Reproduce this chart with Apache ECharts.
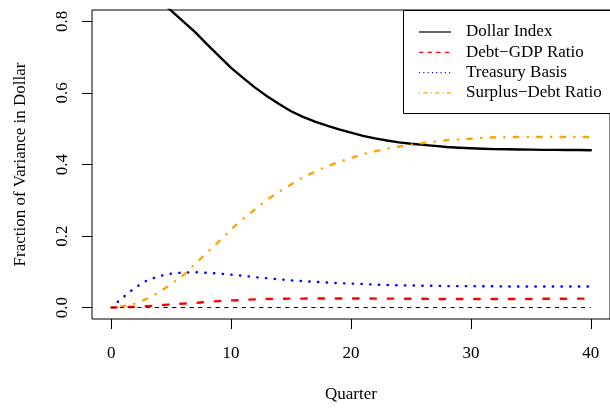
<!DOCTYPE html>
<html>
<head>
<meta charset="utf-8">
<title>Variance Decomposition of the Dollar</title>
<script src="https://cdn.jsdelivr.net/npm/echarts@6/dist/echarts.min.js"></script>
<style>
  html, body { margin: 0; padding: 0; background: #fff; }
  #chart { width: 610px; height: 408px; }
</style>
</head>
<body>
<div id="chart"></div>
<script>
// Forecast horizon in quarters
const quarters = [0,1,2,3,4,5,6,7,8,9,10,11,12,13,14,15,16,17,18,19,20,
  21,22,23,24,25,26,27,28,29,30,31,32,33,34,35,36,37,38,39,40];

// Share of dollar forecast-error variance explained by each shock
const dollarIndex = [1.000,0.962,0.931,0.896,0.863,0.830,0.800,0.770,0.736,0.703,0.670,
  0.642,0.615,0.591,0.569,0.549,0.533,0.520,0.509,0.498,0.489,
  0.480,0.473,0.467,0.462,0.458,0.455,0.452,0.449,0.447,0.4455,
  0.444,0.443,0.4425,0.442,0.4415,0.441,0.441,0.4405,0.4405,0.440];
const debtGdpRatio = [0.000,0.001,0.002,0.004,0.006,0.009,0.011,0.013,0.016,0.018,0.020,
  0.021,0.023,0.024,0.0245,0.025,0.025,0.0255,0.0255,0.0255,0.0255,
  0.0255,0.025,0.025,0.025,0.0245,0.0245,0.024,0.024,0.024,0.024,
  0.024,0.024,0.024,0.024,0.024,0.0245,0.0245,0.0245,0.025,0.025];
const treasuryBasis = [0.000,0.029,0.056,0.076,0.088,0.095,0.098,0.099,0.097,0.095,0.092,
  0.089,0.085,0.082,0.079,0.076,0.074,0.072,0.070,0.068,0.067,
  0.066,0.064,0.063,0.062,0.062,0.061,0.061,0.060,0.060,0.060,
  0.0595,0.0595,0.059,0.059,0.059,0.059,0.059,0.059,0.059,0.059];
const surplusDebtRatio = [0.000,0.004,0.011,0.025,0.043,0.066,0.090,0.122,0.154,0.185,0.218,
  0.248,0.275,0.301,0.324,0.344,0.364,0.380,0.395,0.407,0.418,
  0.429,0.437,0.444,0.450,0.455,0.460,0.464,0.468,0.470,0.472,
  0.4745,0.476,0.4765,0.477,0.477,0.477,0.477,0.477,0.477,0.477];
// Horizontal reference at zero across the horizon
const zeroLine = quarters.map(() => 0);

const xTicks = [0, 10, 20, 30, 40];
const yTicks = [0, 0.2, 0.4, 0.6, 0.8];

const seriesNames = ['Dollar Index', 'Debt\u2212GDP Ratio', 'Treasury Basis', 'Surplus\u2212Debt Ratio'];

const FONT = 'Liberation Serif';
const pairs = (ys) => quarters.map((q, i) => [q, ys[i]]);

const chart = echarts.init(document.getElementById('chart'), null, { renderer: 'canvas' });

// Legend drawn as a boxed key in the upper right
const legendRows = [
  { name: seriesNames[0], color: '#000000', dash: null },
  { name: seriesNames[1], color: '#FF0000', dash: [4.3, 4.3] },
  { name: seriesNames[2], color: '#0000FF', dash: [1.1, 3.2] },
  { name: seriesNames[3], color: '#FFA500', dash: [1.1, 3.2, 4.3, 3.2] }
];
const legendGraphics = [{
  type: 'rect',
  shape: { x: 403.5, y: 10.5, width: 230, height: 103 },
  style: { fill: '#fff', stroke: '#000', lineWidth: 1 },
  z: 100
}];
legendRows.forEach((r, i) => {
  const y = 32 + i * 20.3;
  legendGraphics.push({
    type: 'line',
    shape: { x1: 419, y1: y, x2: 451, y2: y },
    style: { stroke: r.color, lineWidth: 1.2, lineDash: r.dash },
    z: 101
  });
  legendGraphics.push({
    type: 'text',
    x: 466, y: y,
    style: { text: r.name, fill: '#000', font: '17px "' + FONT + '"', verticalAlign: 'middle', align: 'left' },
    z: 101
  });
});

chart.setOption({
  animation: false,
  backgroundColor: '#ffffff',
  textStyle: { fontFamily: FONT },
  grid: {
    left: 92, top: 10, width: 520.6, height: 312,
    show: true, borderColor: '#000', borderWidth: 1, backgroundColor: 'transparent'
  },
  xAxis: {
    type: 'value', min: -1.6, max: 41.6,
    name: 'Quarter', nameLocation: 'middle', nameGap: 67,
    nameTextStyle: { fontFamily: FONT, fontSize: 17, color: '#000' },
    axisLine: { show: false, onZero: false },
    axisTick: { show: true, customValues: xTicks, length: 10, lineStyle: { color: '#000', width: 1 } },
    axisLabel: { customValues: xTicks, margin: 26, fontFamily: FONT, fontSize: 17, color: '#000' },
    splitLine: { show: false }
  },
  yAxis: {
    type: 'value', min: -0.032, max: 0.832,
    name: 'Fraction of Variance in Dollar', nameLocation: 'middle', nameGap: 63, nameRotate: 90,
    nameTextStyle: { fontFamily: FONT, fontSize: 17, color: '#000' },
    axisLine: { show: false, onZero: false },
    axisTick: { show: true, customValues: yTicks, length: 10, lineStyle: { color: '#000', width: 1 } },
    axisLabel: {
      customValues: yTicks, rotate: 90, margin: 21,
      fontFamily: FONT, fontSize: 17, color: '#000',
      formatter: (v) => v.toFixed(1)
    },
    splitLine: { show: false }
  },
  series: [
    {
      name: seriesNames[0], type: 'line', data: pairs(dollarIndex),
      showSymbol: false, symbol: 'none', clip: true,
      lineStyle: { color: '#000000', width: 2.4, cap: 'round', join: 'round' }
    },
    {
      name: seriesNames[1], type: 'line', data: pairs(debtGdpRatio),
      showSymbol: false, symbol: 'none', clip: true,
      lineStyle: { color: '#FF0000', width: 2.4, type: [5.5, 11.8], cap: 'round', join: 'round' }
    },
    {
      name: seriesNames[2], type: 'line', data: pairs(treasuryBasis),
      showSymbol: false, symbol: 'none', clip: true,
      lineStyle: { color: '#0000FF', width: 2.4, type: [0.4, 8.3], cap: 'round', join: 'round' }
    },
    {
      name: seriesNames[3], type: 'line', data: pairs(surplusDebtRatio),
      showSymbol: false, symbol: 'none', clip: true,
      lineStyle: { color: '#FFA500', width: 2.4, type: [0.3, 9.25, 4.5, 9.25], cap: 'round', join: 'round' }
    },
    {
      name: 'zero', type: 'line', data: pairs(zeroLine),
      showSymbol: false, symbol: 'none', silent: true,
      lineStyle: { color: '#000000', width: 1, type: [4.3, 4.4] }
    }
  ],
  graphic: legendGraphics
});
</script>
</body>
</html>
